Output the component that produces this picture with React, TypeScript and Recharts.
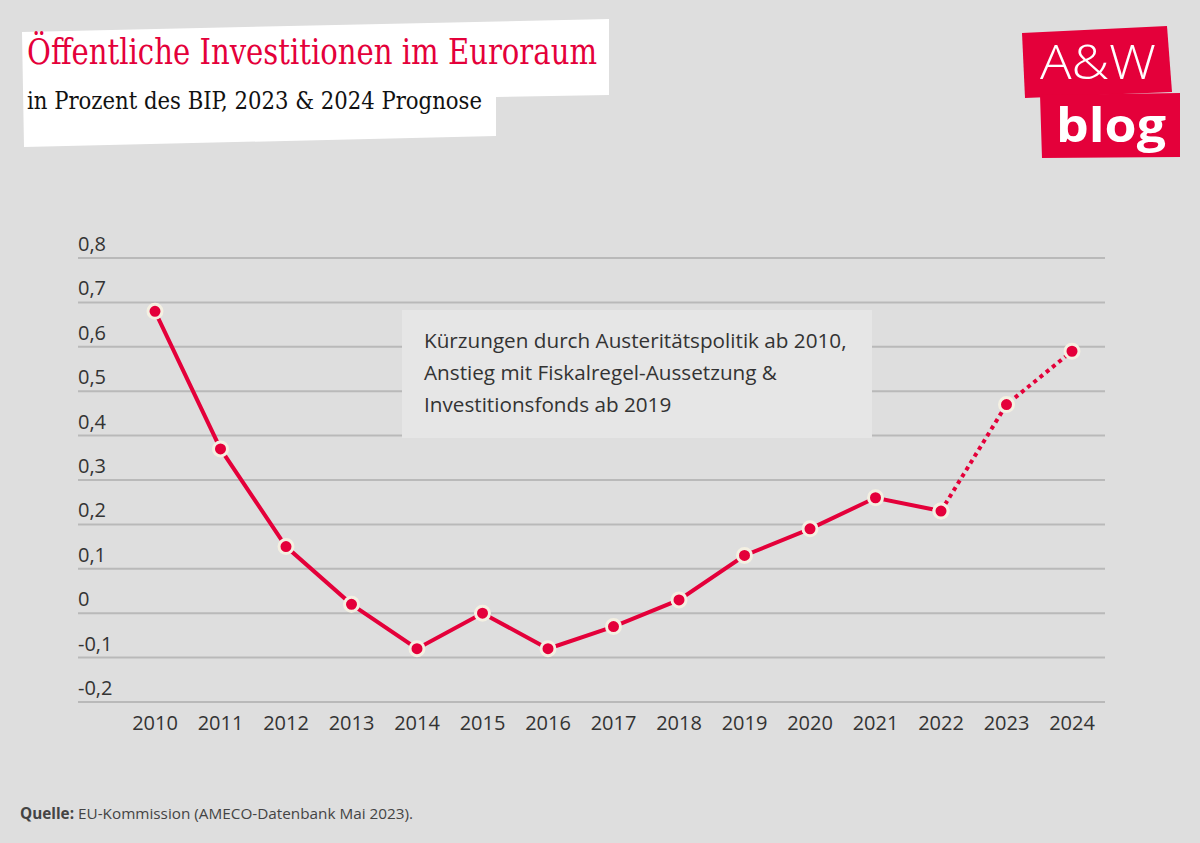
import React from 'react'
import { LineChart, Line, XAxis, YAxis, CartesianGrid } from 'recharts'

// Öffentliche Investitionen im Euroraum, in % des BIP
const years = ['2010', '2011', '2012', '2013', '2014', '2015', '2016', '2017', '2018', '2019', '2020', '2021', '2022', '2023', '2024']
const actualValues = [0.68, 0.37, 0.15, 0.02, -0.08, 0.0, -0.08, -0.03, 0.03, 0.13, 0.19, 0.26, 0.23, null, null]
const forecastValues = [null, null, null, null, null, null, null, null, null, null, null, null, 0.23, 0.47, 0.59]
const yTicks = [-0.2, -0.1, 0, 0.1, 0.2, 0.3, 0.4, 0.5, 0.6, 0.7, 0.8]

const data = years.map((year, i) => ({
  year,
  actual: actualValues[i],
  forecast: forecastValues[i],
}))

const RED = '#e4003a'
const BG = '#dedede'
const SANS = '"Open Sans", "Noto Sans", sans-serif'

const formatTick = (v: number) => (v === 0 ? '0' : v.toFixed(1).replace('.', ','))

const renderYTick = (props: any) => {
  const { y, payload, index } = props
  return (
    <text key={index} x={78} y={y - 7} textAnchor="start" fill="#333" fontSize={20} fontFamily={SANS}>
      {formatTick(payload.value)}
    </text>
  )
}

const renderDot = (props: any) => {
  const { cx, cy, value, index } = props
  if (value === null || value === undefined || cx == null) return <g key={index} />
  return <circle key={index} cx={cx} cy={cy} r={7} fill={RED} stroke="#f4f0e2" strokeWidth={3} />
}

export default function App() {
  return (
    <div style={{ position: 'absolute', left: 0, top: 0, width: 1200, height: 843, background: BG, overflow: 'hidden' }}>
      {/* title block */}
      <svg width={1200} height={170} style={{ position: 'absolute', left: 0, top: 0 }}>
        <polygon points="22,32 609,19 609,95 496,97 496,136 24,147" fill="#fff" />
        <text x={27} y={64} fill={RED} fontSize={35} fontFamily='"DejaVu Serif Condensed", "DejaVu Serif", serif'
          textLength={570} lengthAdjust="spacingAndGlyphs">
          Öffentliche Investitionen im Euroraum
        </text>
        <text x={27} y={109} fill="#111" fontSize={25} fontFamily='"DejaVu Serif Condensed", "DejaVu Serif", serif'
          textLength={455} lengthAdjust="spacingAndGlyphs">
          in Prozent des BIP,  2023 &amp; 2024 Prognose
        </text>

        {/* logo */}
        <polygon points="1022,33 1167,26 1172,92 1025,98" fill={RED} />
        <polygon points="1040,95 1180,93 1180,157 1042,158" fill={RED} />
        <text x={1098} y={79} textAnchor="middle" fill="#fff" fontSize={47} fontWeight={300} fontFamily={SANS}
          textLength={116} lengthAdjust="spacingAndGlyphs">A&amp;W</text>
        <text x={1111} y={142} textAnchor="middle" fill="#fff" fontSize={46} fontWeight={700} fontFamily={SANS}
          textLength={110} lengthAdjust="spacingAndGlyphs">blog</text>
      </svg>

      <LineChart
        width={1200}
        height={843}
        data={data}
        margin={{ top: 258, right: 95, left: 78, bottom: 111 }}
        style={{ position: 'absolute', left: 0, top: 0 }}
      >
        <CartesianGrid horizontal vertical={false} stroke="#b9b9b9" strokeWidth={2} />
        <XAxis
          dataKey="year"
          height={30}
          padding={{ left: 77, right: 33 }}
          axisLine={false}
          tickLine={false}
          tickMargin={8}
          tick={{ fill: '#333', fontSize: 20, fontFamily: SANS }}
          interval={0}
        />
        <YAxis
          type="number"
          domain={[-0.2, 0.8]}
          ticks={yTicks}
          interval={0}
          mirror
          width={1}
          axisLine={false}
          tickLine={false}
          tick={renderYTick}
        />
        <Line
          dataKey="forecast"
          stroke={RED}
          strokeWidth={4}
          strokeDasharray="4 4"
          dot={renderDot}
          connectNulls={false}
          isAnimationActive={false}
        />
        <Line
          dataKey="actual"
          stroke={RED}
          strokeWidth={4}
          dot={renderDot}
          connectNulls={false}
          isAnimationActive={false}
        />
      </LineChart>

      {/* annotation */}
      <div
        style={{
          position: 'absolute',
          left: 402,
          top: 310,
          width: 470,
          height: 128,
          background: '#e6e6e6',
          boxSizing: 'border-box',
          padding: '14px 0 0 22px',
          fontFamily: SANS,
          fontSize: 20.7,
          lineHeight: '32px',
          color: '#333',
        }}
      >
        Kürzungen durch Austeritätspolitik ab 2010,
        <br />
        Anstieg mit Fiskalregel-Aussetzung &amp;
        <br />
        Investitionsfonds ab 2019
      </div>

      {/* source */}
      <div style={{ position: 'absolute', left: 20, top: 803, fontFamily: SANS, fontSize: 15.3, color: '#444' }}>
        <b>Quelle:</b> EU-Kommission (AMECO-Datenbank Mai 2023).
      </div>
    </div>
  )
}
